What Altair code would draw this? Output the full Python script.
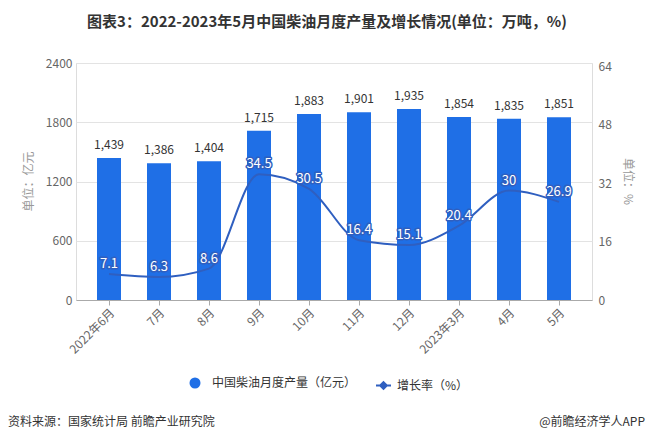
import altair as alt
import pandas as pd

categories = ["2022年6月", "7月", "8月", "9月", "10月", "11月", "12月", "2023年3月", "4月", "5月"]
output = [1439, 1386, 1404, 1715, 1883, 1901, 1935, 1854, 1835, 1851]
growth = [7.1, 6.3, 8.6, 34.5, 30.5, 16.4, 15.1, 20.4, 30, 26.9]
left_ticks = [0, 600, 1200, 1800, 2400]
right_ticks = [0, 16, 32, 48, 64]
bar_name = "中国柴油月度产量（亿元）"
line_name = "增长率（%）"
title_text = "图表3：2022-2023年5月中国柴油月度产量及增长情况(单位：万吨，%)"
source_text = "资料来源：国家统计局 前瞻产业研究院"
brand_text = "@前瞻经济学人APP"

df = pd.DataFrame({"月份": categories, "产量": output, "增长率": growth,
                   "s1": bar_name, "s2": line_name})

FONT = "Noto Sans CJK SC"
BAR = "#1F6FE6"
LINE = "#2F5FC0"

xenc = alt.X("月份:N", sort=categories,
             scale=alt.Scale(paddingInner=0.52, paddingOuter=0.42),
             axis=alt.Axis(title=None, labelAngle=-45, labelFontSize=12, labelColor="#666",
                           labelFont=FONT, domainColor="#aaa", tickColor="#aaa", tickSize=5,
                           labelPadding=2))

base = alt.Chart(df)

bars = base.mark_bar().encode(
    x=xenc,
    y=alt.Y("产量:Q", scale=alt.Scale(domain=[0, 2400]),
            axis=alt.Axis(values=left_ticks, format="d", title="单位：亿元", domain=False,
                          ticks=False, tickSize=0,
                          labelPadding=4, labelFontSize=12, labelColor="#666", labelFont=FONT,
                          gridColor="#e3e3e3", titleFont=FONT, titleFontSize=12, titleColor="#999",
                          titleFontWeight="normal", titleX=-48, titleY=118, titleAngle=-90,
                          titleBaseline="middle", titleAlign="center")),
    fill=alt.Fill("s1:N", scale=alt.Scale(range=[BAR]),
                  legend=alt.Legend(orient="none", legendX=113, legendY=314, title=None,
                                    symbolType="circle", symbolSize=121, labelOffset=11,
                                    labelFontSize=12, labelColor="#333", labelFont=FONT,
                                    padding=0, symbolStrokeWidth=0)),
)
bar_labels = base.mark_text(dy=-6, baseline="bottom", fontSize=12, color="#333", font=FONT).encode(
    x=alt.X("月份:N", sort=categories),
    y=alt.Y("产量:Q"),
    text=alt.Text("产量:Q", format=","),
)

line = base.mark_line(interpolate="monotone", strokeWidth=2).encode(
    x=alt.X("月份:N", sort=categories),
    y=alt.Y("增长率:Q", scale=alt.Scale(domain=[0, 64]),
            axis=alt.Axis(values=right_ticks, format="d", title="单位：%", orient="right",
                          domain=False,
                          ticks=False, tickSize=0, grid=False, labelPadding=6, labelFontSize=12,
                          labelColor="#666", labelFont=FONT, titleFont=FONT, titleFontSize=12,
                          titleColor="#999", titleFontWeight="normal", titleX=35, titleY=118,
                          titleAngle=90, titleBaseline="middle", titleAlign="center")),
    stroke=alt.Stroke("s2:N", scale=alt.Scale(range=[LINE]),
                      legend=alt.Legend(orient="none", legendX=299, legendY=314, title=None,
                                        symbolType="M-1,0L1,0M0,-0.45L0.45,0L0,0.45L-0.45,0Z",
                                        symbolSize=225, symbolStrokeWidth=2, labelOffset=5,
                                        labelFontSize=12, labelColor="#333", labelFont=FONT,
                                        padding=0, symbolFillColor=LINE)),
)
lab_enc = dict(x=alt.X("月份:N", sort=categories), y=alt.Y("增长率:Q"), text=alt.Text("增长率:Q"))
line_lab_bg = base.mark_text(dy=-10, fontSize=13, font=FONT, color=LINE, stroke=LINE,
                             strokeWidth=3, strokeJoin="round").encode(**lab_enc)
line_lab_fg = base.mark_text(dy=-10, fontSize=13, font=FONT, color="white").encode(**lab_enc)

src = alt.Chart(pd.DataFrame({"t": [source_text]})).mark_text(
    align="left", baseline="middle", fontSize=12, color="#333", font=FONT).encode(
    x=alt.value(-68), y=alt.value(359), text="t:N")
brand = alt.Chart(pd.DataFrame({"t": [brand_text]})).mark_text(
    align="right", baseline="middle", fontSize=12, color="#333", font=FONT).encode(
    x=alt.value(569), y=alt.value(359), text="t:N")

left = alt.layer(bars, bar_labels)
right = alt.layer(line, line_lab_bg, line_lab_fg)

chart = alt.layer(left, right, src, brand).resolve_scale(y="independent").properties(
    width=516, height=237,
    autosize=alt.AutoSizeParams(type="none"),
    padding={"left": 68, "top": 55, "right": 55, "bottom": 131},
    title=alt.TitleParams(text=title_text, fontSize=15, fontWeight="bold", font=FONT,
                          color="#333", anchor="middle", offset=12, dx=-7, baseline="bottom"),
).configure_view(stroke=None).configure(background="white")

chart.save("out.html", embed_options={"renderer": "svg", "actions": False})
